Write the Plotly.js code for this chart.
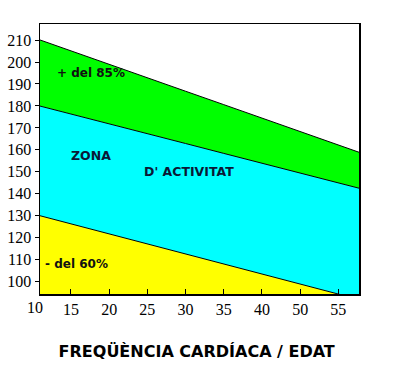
<!DOCTYPE html>
<html>
<head>
<meta charset="utf-8">
<script src="https://cdn.plot.ly/plotly-3.0.1.min.js"></script>
<style>html,body{margin:0;padding:0;background:#fff;}#chart{width:393px;height:384px;}</style>
</head>
<body>
<div id="chart"></div>
<script>
// Age categories (evenly spaced on the axis, as in the original)
const ageLabels = ['10', '15', '20', '25', '30', '35', '40', '50', '55'];
// Heart-rate boundaries read at each category (last value continues the line past 55)
const upperLimit = [211.2, 205.0, 198.9, 192.8, 186.7, 180.6, 174.5, 168.4, 162.2, 156.1];
const zoneTop    = [180.8, 176.4, 171.9, 167.4, 162.9, 158.4, 153.9, 149.5, 145.0, 140.5];
const zoneBottom = [130.9, 126.3, 121.7, 117.2, 112.6, 108.0, 103.5, 98.9, 94.4, 89.8];
const yTicks = [100, 110, 120, 130, 140, 150, 160, 170, 180, 190, 200, 210];

const idx = upperLimit.map((_, i) => i);
const line = {color: '#000', width: 1};

const traces = [
  {x: idx, y: zoneBottom, type: 'scatter', mode: 'lines', line: line, fill: 'tozeroy', fillcolor: '#ffff00', hoverinfo: 'skip'},
  {x: idx, y: zoneTop, type: 'scatter', mode: 'lines', line: line, fill: 'tonexty', fillcolor: '#00ffff', hoverinfo: 'skip'},
  {x: idx, y: upperLimit, type: 'scatter', mode: 'lines', line: line, fill: 'tonexty', fillcolor: '#00ff00', hoverinfo: 'skip'}
];

const serif = 'Liberation Serif';
const labelFamily = 'DejaVu Sans';

const layout = {
  width: 393, height: 384,
  margin: {l: 40, r: 34, t: 24, b: 90},
  paper_bgcolor: '#fff', plot_bgcolor: '#fff',
  showlegend: false,
  font: {family: serif, size: 16, color: '#000'},
  title: {
    text: '<b>FREQÜÈNCIA CARDÍACA / EDAT</b>',
    font: {family: labelFamily, size: 16, color: '#000'},
    x: 196.7 / 393, xanchor: 'center', xref: 'container',
    y: 1 - 351 / 384, yanchor: 'middle', yref: 'container'
  },
  xaxis: {
    type: 'linear', range: [0.19, 8.54],
    tickmode: 'array', tickvals: idx.slice(1, ageLabels.length), ticktext: ageLabels.slice(1),
    ticks: 'inside', ticklen: 5, tickcolor: '#000', tickwidth: 1,
    showgrid: false, zeroline: false,
    showline: true, mirror: true, linecolor: '#000', linewidth: 1.5,
    tickfont: {family: serif, size: 16, color: '#000'}, fixedrange: true
  },
  yaxis: {
    range: [94.4, 217.3],
    tickmode: 'array', tickvals: yTicks,
    ticks: 'outside', ticklen: 4, tickcolor: '#000', tickwidth: 1,
    showgrid: false, zeroline: false,
    showline: true, mirror: true, linecolor: '#000', linewidth: 1.5,
    tickfont: {family: serif, size: 16, color: '#000'}, fixedrange: true
  },
  annotations: []
};

// Pixel geometry of the plot area, used only to place text labels
const plotL = 40, plotR = 359, plotT = 24, plotB = 294;
const pxToPaperX = px => (px - plotL) / (plotR - plotL);
const pxToPaperY = py => (plotB - py) / (plotB - plotT);

// First age label sits just left of the plot edge (category 0 lies outside the drawn range)
layout.annotations.push({
  xref: 'paper', yref: 'paper', x: pxToPaperX(35), y: 0, xanchor: 'center', yanchor: 'top', yshift: -3,
  text: ageLabels[0], showarrow: false, font: {family: serif, size: 16, color: '#000'}
});

const zoneTexts = [
  {t: '<b>+ del 85%</b>', px: 55, py: 73, size: 12, color: '#111'},
  {t: '<b>ZONA</b>', px: 69.3, py: 155.5, size: 12.5, color: '#0a1836'},
  {t: "<b>D' ACTIVITAT</b>", px: 141.7, py: 171, size: 12.5, color: '#0a1836'},
  {t: '<b>- del 60%</b>', px: 43.3, py: 263.5, size: 12, color: '#111'}
];
zoneTexts.forEach(z => layout.annotations.push({
  xref: 'paper', yref: 'paper', x: pxToPaperX(z.px), y: pxToPaperY(z.py),
  xanchor: 'left', yanchor: 'middle', text: z.t, showarrow: false,
  font: {family: labelFamily, size: z.size, color: z.color}
}));

Plotly.newPlot('chart', traces, layout, {staticPlot: true, displayModeBar: false});
</script>
</body>
</html>
